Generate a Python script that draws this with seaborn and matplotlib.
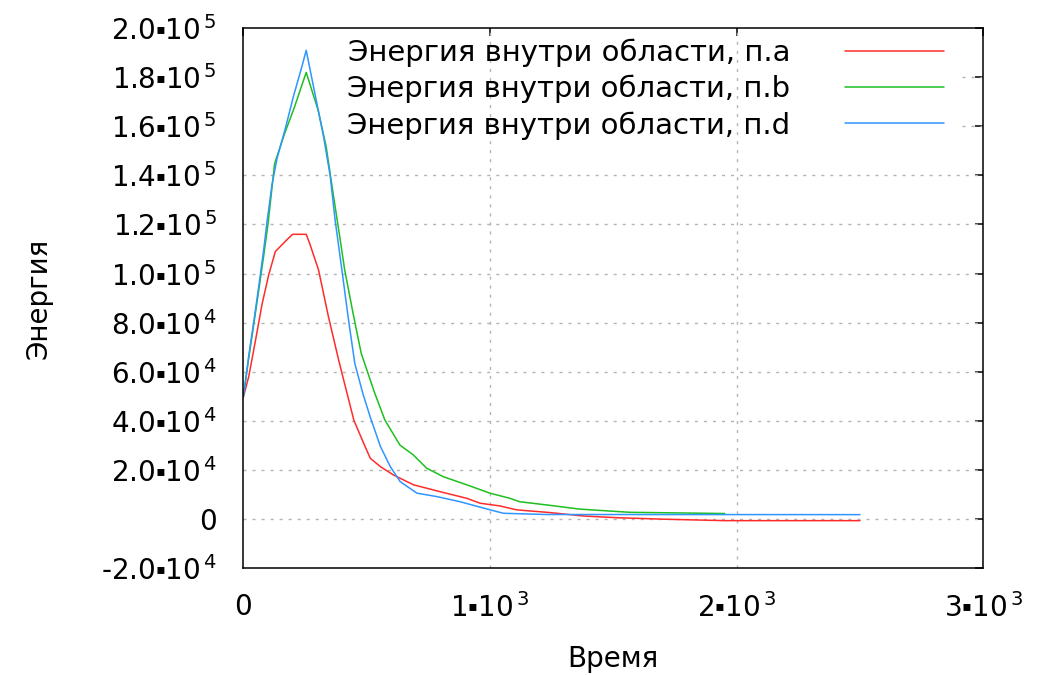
import matplotlib
matplotlib.use("Agg")
import matplotlib.pyplot as plt
import seaborn as sns
import pandas as pd

# ---------------- data ----------------
labels = ["Энергия внутри области, п.a",
          "Энергия внутри области, п.b",
          "Энергия внутри области, п.d"]

t_a = [0, 22, 49, 76, 103, 130, 184, 200, 255, 270, 305, 345, 386, 407, 448, 488,
       515, 556, 609, 690, 798, 906, 960, 1040, 1108, 1242, 1378, 1514, 1702, 1952, 2500]
e_a = [49500, 58000, 72500, 87500, 99500, 109000, 114500, 116000, 116000, 112000,
       101500, 82500, 65000, 56600, 40300, 30800, 24700, 21300, 17900, 13900, 11100,
       8400, 6400, 5300, 3700, 2600, 1200, 500, -100, -700, -700]

t_b = [0, 22, 42, 63, 83, 100, 127, 168, 208, 255, 303, 336, 364, 391, 411, 445, 478,
       533, 574, 635, 689, 743, 811, 906, 1000, 1081, 1121, 1230, 1364, 1566, 1952]
e_b = [50000, 65500, 79000, 93500, 107500, 120000, 144900, 157200, 168000, 182000,
       166700, 151700, 132700, 115000, 101500, 83800, 67500, 51200, 40300, 30100,
       26100, 20700, 17200, 13900, 10500, 8400, 7000, 5700, 4000, 2700, 2200]

t_d = [0, 9, 22, 42, 63, 83, 96, 116, 137, 170, 204, 238, 255, 292, 325, 352, 372,
       399, 426, 452, 485, 514, 556, 596, 636, 704, 785, 879, 960, 1054, 1229, 2500]
e_d = [50000, 56000, 66500, 80000, 95000, 110000, 121000, 136000, 147000, 159000,
       172500, 184500, 191000, 172500, 156000, 140000, 122000, 102000, 81500, 63400,
       51000, 41700, 29500, 21300, 15200, 10500, 9100, 7000, 4800, 2300, 1800, 1750]

colors = ["#ff2b2b", "#1fbf1f", "#2f95ff"]

SQ = "$\\mathsf{▪}$"
y_ticks = [-20000, 0, 20000, 40000, 60000, 80000, 100000, 120000, 140000,
           160000, 180000, 200000]
y_mant = ["-2.0", "0", "2.0", "4.0", "6.0", "8.0", "1.0", "1.2", "1.4", "1.6", "1.8", "2.0"]
y_exp = ["4", "", "4", "4", "4", "4", "5", "5", "5", "5", "5", "5"]
x_ticks = [0, 1000, 2000, 3000]
x_mant = ["0", "1", "2", "3"]
x_exp = ["", "3", "3", "3"]


def fmt(m, e):
    if not e:
        return m
    return m + SQ + "10$^{\\,%s}$" % e


y_ticklabels = [fmt(m, e) for m, e in zip(y_mant, y_exp)]
x_ticklabels = [fmt(m, e) for m, e in zip(x_mant, x_exp)]

# ---------------- frame ----------------
rows = []
for lab, ts, es in zip(labels, [t_a, t_b, t_d], [e_a, e_b, e_d]):
    for t, e in zip(ts, es):
        rows.append({"Время": t, "Энергия": e, "series": lab})
df = pd.DataFrame(rows)

sns.set_theme(style="white")
plt.rcParams["font.family"] = ["DejaVu Sans"]
plt.rcParams["mathtext.fontset"] = "custom"
plt.rcParams["mathtext.rm"] = "DejaVu Sans"
plt.rcParams["mathtext.it"] = "DejaVu Sans:italic"
plt.rcParams["mathtext.bf"] = "DejaVu Sans:bold"
plt.rcParams["mathtext.sf"] = "Liberation Sans"

fig = plt.figure(figsize=(10.37, 6.75), dpi=100)
ax = fig.add_axes([243.3 / 1037, (675 - 568) / 675,
                   (983.3 - 243.3) / 1037, (568 - 28.2) / 675])

sns.lineplot(data=df, x="Время", y="Энергия", hue="series",
             palette=dict(zip(labels, colors)), sort=False, estimator=None,
             linewidth=1.1, ax=ax, zorder=3)

ax.set_xlim(0, 3000)
ax.set_ylim(-20000, 200000)

# grid
gcol = "#b4b4b4"
gls = (0, (2.2, 4.3))
for xv in [1000, 2000]:
    ax.axvline(xv, color=gcol, lw=1.0, ls=gls, zorder=1)
for yv in y_ticks[1:-1]:
    x0 = 2915 if yv >= 160000 else 0
    ax.hlines(yv, x0, 3000, color=gcol, lw=1.0, ls=gls, zorder=1)

ax.set_xticks(x_ticks)
ax.set_xticklabels(x_ticklabels)
ax.set_yticks(y_ticks)
ax.set_yticklabels(y_ticklabels)
ax.tick_params(axis="both", direction="in", length=6, width=1.1, color="black",
               labelsize=20, top=True, right=True, labelcolor="black")
ax.tick_params(axis="y", pad=19)
ax.tick_params(axis="x", pad=18)

for s in ax.spines.values():
    s.set_color("black")
    s.set_linewidth(1.1)
    s.set_zorder(5)

ax.set_xlabel("Время", fontsize=20, labelpad=16, color="black")
ax.set_ylabel("Энергия", fontsize=20, color="black")
ax.yaxis.set_label_coords((52 - 243.3) / 740, 0.5)

# legend
handles = ax.get_lines()[:3]
if ax.get_legend() is not None:
    ax.get_legend().remove()
leg = ax.legend(handles, labels, loc="upper left",
                bbox_to_anchor=((347 - 243.3) / 740, 1.0 - (38.5 - 28.2) / 540),
                frameon=False, markerfirst=False, fontsize=21,
                handlelength=3.4, handletextpad=1.88, labelspacing=0.27,
                borderaxespad=0.0, borderpad=0.0)
for txt in leg.get_texts():
    txt.set_color("black")
for h in leg.legend_handles:
    h.set_linewidth(1.1)

fig.savefig("out.png", dpi=100, facecolor="white")
